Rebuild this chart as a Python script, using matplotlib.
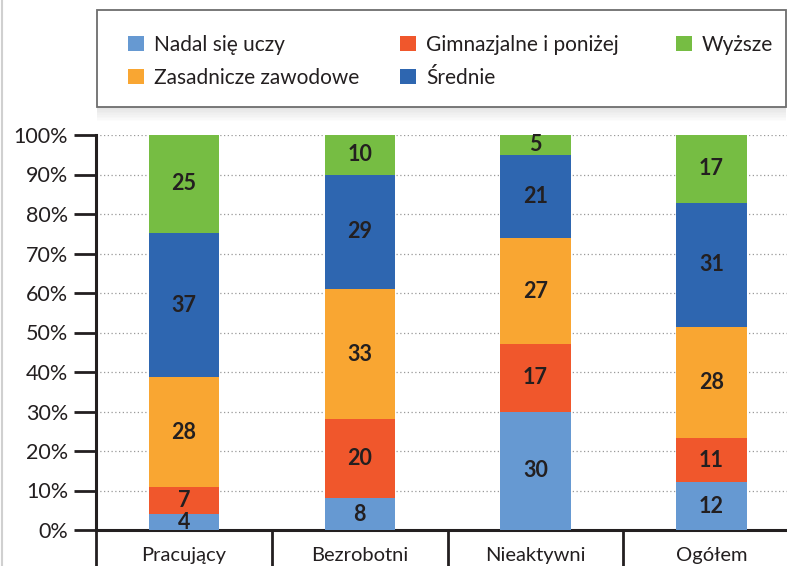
import numpy as np
import matplotlib.pyplot as plt
from matplotlib.patches import Rectangle

plt.rcParams['font.family'] = ['Lato', 'DejaVu Sans']

categories = ["Pracujący", "Bezrobotni", "Nieaktywni", "Ogółem"]
series = ["Nadal się uczy", "Zasadnicze zawodowe", "Gimnazjalne i poniżej", "Średnie", "Wyższe"]
nadal = [4, 8, 30, 12]
gimnazjalne = [7, 20, 17, 11]
zasadnicze = [28, 33, 27, 28]
srednie = [37, 29, 21, 31]
wyzsze = [25, 10, 5, 17]

colors = {
    "Nadal się uczy": "#6699d2",
    "Gimnazjalne i poniżej": "#f0572c",
    "Zasadnicze zawodowe": "#f9a632",
    "Średnie": "#2e66b0",
    "Wyższe": "#76bd43",
}
stack = [("Nadal się uczy", nadal), ("Gimnazjalne i poniżej", gimnazjalne),
         ("Zasadnicze zawodowe", zasadnicze), ("Średnie", srednie), ("Wyższe", wyzsze)]

totals = np.sum([v for _, v in stack], axis=0)
txt = "#231f20"

fig = plt.figure(figsize=(7.87, 5.66), dpi=100)
ax = fig.add_axes([96 / 787, 1 - 530 / 566, 1 - 96 / 787, 395 / 566])

x = np.arange(len(categories))
bottom = np.zeros(len(categories))
bars = {}
for name, vals in stack:
    h = np.array(vals) / totals * 100
    b = ax.bar(x, h, 0.4, bottom=bottom, color=colors[name], zorder=3)
    bars[name] = b
    for xi, yi, hi, v in zip(x, bottom, h, vals):
        ax.text(xi, yi + hi / 2, str(v), ha='center', va='center',
                fontsize=15.5, fontweight='bold', color=txt, zorder=4)
    bottom += h

ax.set_xlim(-0.5, 3.43)
ax.set_ylim(0, 100)
ax.set_yticks(np.arange(0, 101, 10))
ax.set_yticklabels([f"{v}%" for v in range(0, 101, 10)], fontsize=15.5, color=txt)
ax.tick_params(axis='y', length=16, width=2, color=txt, pad=4)
ax.yaxis.grid(True, linestyle=(0, (1, 2)), color='#999999', linewidth=0.9)
ax.set_axisbelow(True)

ax.set_xticks([-0.5, 0.5, 1.5, 2.5])
ax.set_xticklabels([])
ax.tick_params(axis='x', which='major', length=26, width=2, color=txt)
ax.set_xticks(x, minor=True)
ax.set_xticklabels(categories, minor=True, fontsize=14.5, color=txt)
ax.tick_params(axis='x', which='minor', length=0, pad=12)

for s in ['top', 'right']:
    ax.spines[s].set_visible(False)
for s in ['left', 'bottom']:
    ax.spines[s].set_linewidth(2.2)
    ax.spines[s].set_color(txt)

# legend box with soft shadow
for i in range(10):
    fig.patches.append(Rectangle((97 / 787, (566 - 107 - i * 1.6) / 566), 689 / 787, 20 / 566,
                                 transform=fig.transFigure, facecolor='#000000',
                                 alpha=0.012, edgecolor='none', zorder=0))
fig.patches.append(Rectangle((97 / 787, 1 - 107 / 566), 689 / 787, 97 / 566,
                             transform=fig.transFigure, facecolor='white',
                             edgecolor='#6d6d6d', linewidth=1.3, zorder=1))
fig.add_artist(plt.Line2D([1.5 / 787, 1.5 / 787], [0, 1], color='#d0d0d0', linewidth=1.5))

# one legend per column, anchored at the marker x positions
columns = [(series[0:2], 128), (series[2:4], 400), (series[4:5], 676)]
for names, xpix in columns:
    leg = fig.legend([bars[n] for n in names], names, loc='upper left',
                     bbox_to_anchor=(xpix / 787, 1 - 35 / 566), frameon=False,
                     fontsize=15, handlelength=0.75, handleheight=0.75, handletextpad=0.5,
                     labelspacing=0.62, labelcolor=txt, borderpad=0, borderaxespad=0)

fig.savefig("out.png", dpi=100)
